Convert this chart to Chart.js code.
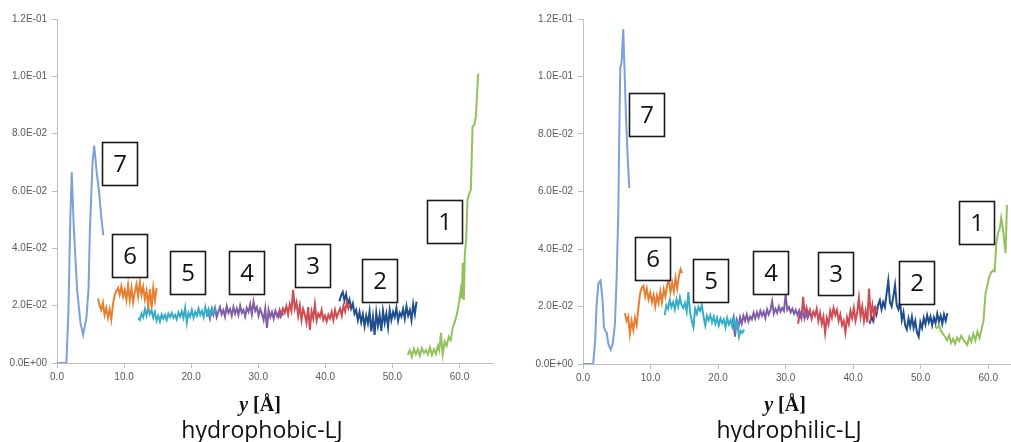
<!DOCTYPE html>
<html>
<head>
<meta charset="utf-8">
<script src="https://cdn.jsdelivr.net/npm/chart.js@4.4.1/dist/chart.umd.min.js"></script>
<style>
  html, body { margin: 0; padding: 0; background: #fff; width: 1011px; height: 442px; overflow: hidden; position: relative; }
  .panel { position: absolute; top: 0; }
  #left { left: 0; }
  #right { left: 520px; }
  .axt { position: absolute; font-family: "Liberation Serif", "DejaVu Serif", serif; font-weight: bold; font-size: 20px; line-height: 20px; color: #111; white-space: nowrap; transform: translateX(-50%); }
  .axt i { font-style: italic; }
  .cap { position: absolute; font-family: "Open Sans", sans-serif; font-size: 23px; line-height: 23px; color: #111; white-space: nowrap; transform: translateX(-50%); }
</style>
</head>
<body>
<canvas id="left" class="panel" width="510" height="395"></canvas>
<canvas id="right" class="panel" width="520" height="395"></canvas>
<div class="axt" style="left:260px;top:394px"><i>y</i> [Å]</div>
<div class="cap" style="left:262px;top:418px">hydrophobic-LJ</div>
<div class="axt" style="left:785px;top:394px"><i>y</i> [Å]</div>
<div class="cap" style="left:789px;top:418px">hydrophilic-LJ</div>
<script>
// ---------- axis ticks ----------
const xTickValues = [0, 10, 20, 30, 40, 50, 60];
const yTickValues = [0, 0.02, 0.04, 0.06, 0.08, 0.10, 0.12];

// ---------- hydrophobic-LJ profiles (regions 1..7) ----------
// region 7: explicit positions
const phobX7 = [0, 0.5, 1.0, 1.4, 1.7, 2.0, 2.2, 2.5, 3.0, 3.5, 3.9, 4.4, 4.7, 4.9, 5.3, 5.55, 5.9, 6.3, 6.6, 6.9];
const phobY7 = [0, 0, 0, 0, 0.018, 0.052, 0.0665, 0.0475, 0.0255, 0.014, 0.0098, 0.016, 0.026, 0.046, 0.070, 0.0758, 0.067, 0.059, 0.051, 0.0446];
// regions 6..2: uniform 0.25 Å bins, first bin position given
const phobStart6 = 6.1;
const phobY6 = [0.0225,0.0200,0.0185,0.0210,0.0168,0.0192,0.0158,0.0188,0.0152,0.0205,
                0.0238,0.0252,0.0262,0.0238,0.0268,0.0232,0.0255,0.0220,0.0272,0.0218,
                0.0262,0.0212,0.0248,0.0275,0.0232,0.0282,0.0238,0.0266,0.0222,0.0252,
                0.0200,0.0258,0.0192,0.0262,0.0218,0.0262];
const phobStart5 = 12.1;
const phobY5 = [0.0157,0.0150,0.0172,0.0160,0.0188,0.0165,0.0195,0.0170,0.0185,0.0158,
                0.0178,0.0148,0.0165,0.0145,0.0170,0.0155,0.0168,0.0150,0.0172,0.0160,
                0.0175,0.0158,0.0168,0.0152,0.0176,0.0162,0.0180,0.0158,0.0192,0.0140,
                0.0175,0.0162,0.0185,0.0158,0.0178,0.0165,0.0190,0.0168,0.0182,0.0160,
                0.0195,0.0170,0.0188,0.0165,0.0192,0.0175,0.0185,0.0178];
const phobStart4 = 22.3;
const phobY4 = [0.0162,0.0180,0.0155,0.0185,0.0168,0.0192,0.0160,0.0178,0.0195,0.0170,
                0.0185,0.0162,0.0198,0.0175,0.0188,0.0165,0.0195,0.0172,0.0190,0.0168,
                0.0200,0.0175,0.0185,0.0162,0.0192,0.0178,0.0205,0.0170,0.0214,0.0182,
                0.0195,0.0165,0.0188,0.0172,0.0150,0.0190,0.0122,0.0185,0.0160,0.0178,
                0.0155,0.0182,0.0165,0.0175,0.0160,0.0172,0.0168];
const phobStart3 = 32.7;
const phobY3 = [0.0172,0.0160,0.0185,0.0168,0.0190,0.0175,0.0198,0.0170,0.0205,0.0182,
                0.0255,0.0190,0.0212,0.0165,0.0200,0.0150,0.0188,0.0168,0.0140,0.0195,
                0.0115,0.0180,0.0155,0.0205,0.0148,0.0172,0.0160,0.0185,0.0150,0.0165,
                0.0145,0.0168,0.0155,0.0178,0.0150,0.0185,0.0160,0.0175,0.0190,0.0165,
                0.0200,0.0180,0.0212,0.0190,0.0205];
const phobStart2 = 42.1;
const phobY2 = [0.0215,0.0235,0.0248,0.0218,0.0240,0.0205,0.0222,0.0190,0.0208,0.0172,
                0.0185,0.0150,0.0178,0.0142,0.0170,0.0128,0.0165,0.0138,0.0180,0.0110,
                0.0160,0.0098,0.0175,0.0130,0.0168,0.0112,0.0182,0.0140,0.0172,0.0125,
                0.0185,0.0150,0.0178,0.0160,0.0192,0.0148,0.0175,0.0162,0.0188,0.0155,
                0.0198,0.0165,0.0185,0.0150,0.0205,0.0170,0.0214];
// region 1: explicit positions
const phobX1 = [52.3,52.6,52.9,53.2,53.5,53.8,54.1,54.4,54.7,55.0,55.3,55.6,55.9,56.2,56.5,56.8,57.0,57.25,57.5,57.8,
                58.1,58.4,58.7,59.0,59.25,59.5,59.75,60.0,60.2,60.35,60.5,60.65,60.8,61.0,61.2,61.45,61.7,61.95,62.2,62.45,
                62.65,62.8];
const phobY1 = [0.0028,0.0045,0.0022,0.0050,0.0030,0.0048,0.0025,0.0052,0.0035,0.0045,0.0030,0.0055,0.0028,0.0048,0.0032,0.0060,0.0045,0.0105,0.0030,0.0075,
                0.0060,0.0092,0.0080,0.0125,0.0140,0.0160,0.0185,0.0220,0.0255,0.0225,0.0350,0.0220,0.0380,0.0430,0.0570,0.0590,0.0605,0.0825,0.0830,0.0860,
                0.0950,0.1010];

// ---------- hydrophilic-LJ profiles (regions 1..7) ----------
const philX7 = [0, 0.5, 1.0, 1.5, 1.8, 2.0, 2.27, 2.6, 2.9, 3.1, 3.3, 3.5, 3.75, 4.1, 4.4, 4.73, 4.98, 5.22, 5.37, 5.52, 5.72, 5.96, 6.1, 6.36, 6.6, 6.85];
const philY7 = [0, 0, 0, 0, 0.008, 0.020, 0.028, 0.029, 0.022, 0.013, 0.0115, 0.011, 0.007, 0.005, 0.007, 0.014, 0.030, 0.052, 0.080, 0.103, 0.105, 0.1165, 0.106, 0.0866, 0.0727, 0.0612];
const philStart6 = 6.2;
const philY6 = [0.0177,0.0150,0.0165,0.0105,0.0150,0.0118,0.0160,0.0135,0.0195,0.0245,
                0.0265,0.0272,0.0235,0.0262,0.0225,0.0248,0.0215,0.0240,0.0200,0.0238,
                0.0212,0.0252,0.0215,0.0260,0.0235,0.0272,0.0295,0.0250,0.0282,0.0252,
                0.0300,0.0262,0.0305,0.0330,0.0316];
const philStart5 = 12.1;
const philY5 = [0.0170,0.0205,0.0192,0.0222,0.0198,0.0215,0.0190,0.0225,0.0200,0.0232,
                0.0205,0.0195,0.0212,0.0182,0.0250,0.0180,0.0150,0.0128,0.0192,0.0175,
                0.0198,0.0185,0.0205,0.0165,0.0135,0.0168,0.0152,0.0170,0.0145,0.0165,
                0.0140,0.0160,0.0135,0.0158,0.0142,0.0155,0.0128,0.0160,0.0138,0.0152,
                0.0130,0.0162,0.0125,0.0145,0.0095,0.0115,0.0108,0.0120];
const philStart4 = 22.0;
const philY4 = [0.0140,0.0160,0.0095,0.0150,0.0125,0.0162,0.0140,0.0168,0.0150,0.0172,
                0.0148,0.0165,0.0155,0.0178,0.0158,0.0180,0.0162,0.0185,0.0168,0.0182,
                0.0160,0.0190,0.0172,0.0188,0.0218,0.0175,0.0192,0.0178,0.0200,0.0182,
                0.0195,0.0185,0.0240,0.0188,0.0198,0.0180,0.0192,0.0175,0.0188,0.0170,
                0.0185,0.0165,0.0180,0.0162,0.0178,0.0160,0.0175,0.0168];
const philStart3 = 31.85;
const philY3 = [0.0140,0.0180,0.0160,0.0234,0.0165,0.0195,0.0170,0.0188,0.0158,0.0182,
                0.0168,0.0192,0.0150,0.0178,0.0140,0.0165,0.0108,0.0160,0.0138,0.0185,
                0.0162,0.0195,0.0170,0.0188,0.0150,0.0172,0.0135,0.0150,0.0110,0.0162,
                0.0140,0.0185,0.0160,0.0195,0.0150,0.0178,0.0230,0.0165,0.0200,0.0150,
                0.0185,0.0145,0.0262,0.0170,0.0205,0.0160,0.0195,0.0180];
const philStart2 = 42.45;
const philY2 = [0.0140,0.0165,0.0150,0.0190,0.0172,0.0205,0.0222,0.0190,0.0215,0.0198,
                0.0245,0.0290,0.0215,0.0200,0.0235,0.0275,0.0205,0.0190,0.0215,0.0153,
                0.0180,0.0135,0.0120,0.0158,0.0130,0.0164,0.0125,0.0150,0.0110,0.0095,
                0.0145,0.0125,0.0160,0.0138,0.0170,0.0145,0.0165,0.0135,0.0162,0.0142,
                0.0175,0.0148,0.0168,0.0140,0.0172,0.0150,0.0177];
const philX1 = [52.1,52.4,52.7,53.0,53.3,53.6,53.9,54.2,54.5,54.8,55.1,55.4,55.7,56.0,56.3,56.6,56.9,57.2,57.5,57.8,
                58.1,58.4,58.7,59.0,59.3,59.6,59.85,60.1,60.45,60.7,60.95,61.2,61.45,61.7,61.93,62.2,62.4,62.57,62.77];
const philY1 = [0.0130,0.0125,0.0135,0.0115,0.0105,0.0095,0.0083,0.0100,0.0073,0.0088,0.0070,0.0092,0.0080,0.0098,0.0085,0.0075,0.0066,0.0095,0.0078,0.0105,
                0.0082,0.0112,0.0090,0.0120,0.0150,0.0247,0.0270,0.0300,0.0320,0.0325,0.0322,0.0420,0.0455,0.0470,0.0508,0.0466,0.0420,0.0386,0.0553];

const BIN = 0.25; // bin width of the uniformly sampled regions, Å

// region numbers and their line colours
const regionIds = ['7', '6', '5', '4', '3', '2', '1'];
const regionColors = {
  '7': '#7ca0d8', '6': '#e77f33', '5': '#35aec6', '4': '#7f5fa8',
  '3': '#cf4c52', '2': '#1f4e8c', '1': '#93c15c'
};

// boxed region labels, anchored in data units (x in Å, y in density)
const phobBoxes = { '7': [9.4, 0.0694], '6': [10.9, 0.0373], '5': [19.6, 0.0314], '4': [28.3, 0.0314],
                    '3': [38.2, 0.0338], '2': [48.1, 0.0286], '1': [57.9, 0.0492] };
const philBoxes = { '7': [9.5, 0.0866], '6': [10.4, 0.0365], '5': [18.9, 0.0289], '4': [27.8, 0.0317],
                    '3': [37.4, 0.0313], '2': [49.4, 0.0282], '1': [58.4, 0.0490] };

// ---------- helpers ----------
const explicitPoints = (xs, ys) => xs.map((x, i) => ({ x, y: ys[i] }));
const binnedPoints = (start, ys) => ys.map((y, i) => ({ x: +(start + i * BIN).toFixed(3), y }));

function sciLabel(v) {
  const [m, e] = Number(v).toExponential(1).split('e');
  const n = parseInt(e, 10);
  return m + 'E' + (n < 0 ? '-' : '+') + String(Math.abs(n)).padStart(2, '0');
}

const boxLabels = {
  id: 'boxLabels',
  afterDatasetsDraw(chart, args, opts) {
    const { ctx } = chart;
    const xs = chart.scales.x, ys = chart.scales.y;
    ctx.save();
    Object.entries(opts.items).forEach(([txt, [dx, dy]]) => {
      const cx = Math.round(xs.getPixelForValue(dx));
      const cy = Math.round(ys.getPixelForValue(dy));
      const w = 35, h = 43;
      ctx.fillStyle = '#ffffff';
      ctx.fillRect(cx - w / 2, cy - h / 2, w, h);
      ctx.lineWidth = 1.6;
      ctx.strokeStyle = '#1a1a1a';
      ctx.strokeRect(cx - w / 2, cy - h / 2, w, h);
      ctx.fillStyle = '#111';
      ctx.font = '24px "Open Sans", sans-serif';
      ctx.textAlign = 'center';
      ctx.textBaseline = 'middle';
      ctx.fillText(txt, cx, cy + 1);
    });
    ctx.restore();
  }
};

function makeChart(canvasId, seriesById, boxes, yAxisWidth, xAxisHeight, padRight) {
  const datasets = regionIds.map(id => ({
    label: id,
    data: seriesById[id],
    borderColor: regionColors[id],
    backgroundColor: regionColors[id],
    borderWidth: 2,
    pointRadius: 0,
    tension: 0,
    fill: false
  }));
  const tickFont = { family: '"Liberation Sans", Arial, sans-serif', size: 10 };
  return new Chart(document.getElementById(canvasId), {
    type: 'line',
    data: { datasets },
    plugins: [boxLabels],
    options: {
      responsive: false,
      animation: false,
      parsing: true,
      layout: { padding: { top: 19, right: padRight, left: 0, bottom: 0 } },
      plugins: {
        legend: { display: false },
        tooltip: { enabled: false },
        boxLabels: { items: boxes }
      },
      scales: {
        x: {
          type: 'linear',
          min: 0, max: 65,
          afterBuildTicks: s => { s.ticks = xTickValues.map(v => ({ value: v })); },
          afterFit: s => { s.height = xAxisHeight; },
          ticks: { font: tickFont, color: '#595959', padding: 3, maxRotation: 0,
                   callback: v => Number(v).toFixed(1) },
          grid: { drawOnChartArea: false, drawTicks: true, tickLength: 5, color: '#bfbfbf' },
          border: { color: '#bfbfbf', width: 1 }
        },
        y: {
          type: 'linear',
          min: 0, max: 0.12,
          afterBuildTicks: s => { s.ticks = yTickValues.map(v => ({ value: v })); },
          afterFit: s => { s.width = yAxisWidth; },
          ticks: { font: tickFont, color: '#595959', padding: 5, callback: v => sciLabel(v) },
          grid: { drawOnChartArea: false, drawTicks: true, tickLength: 5, color: '#bfbfbf' },
          border: { color: '#bfbfbf', width: 1 }
        }
      }
    }
  });
}

makeChart('left', {
  '7': explicitPoints(phobX7, phobY7),
  '6': binnedPoints(phobStart6, phobY6),
  '5': binnedPoints(phobStart5, phobY5),
  '4': binnedPoints(phobStart4, phobY4),
  '3': binnedPoints(phobStart3, phobY3),
  '2': binnedPoints(phobStart2, phobY2),
  '1': explicitPoints(phobX1, phobY1)
}, phobBoxes, 57, 32, 17);

makeChart('right', {
  '7': explicitPoints(philX7, philY7),
  '6': binnedPoints(philStart6, philY6),
  '5': binnedPoints(philStart5, philY5),
  '4': binnedPoints(philStart4, philY4),
  '3': binnedPoints(philStart3, philY3),
  '2': binnedPoints(philStart2, philY2),
  '1': explicitPoints(philX1, philY1)
}, philBoxes, 63, 31, 18);
</script>
</body>
</html>
